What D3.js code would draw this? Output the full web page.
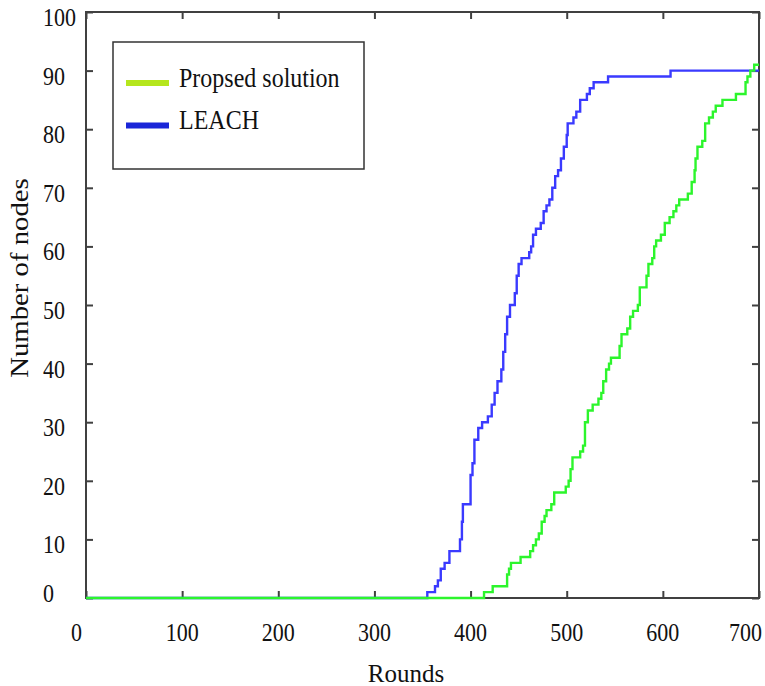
<!DOCTYPE html>
<html>
<head>
<meta charset="utf-8">
<script src="https://cdn.jsdelivr.net/npm/d3@7"></script>
<style>
  body { margin: 0; background: #fff; }
  text { font-family: "Liberation Serif", "Times New Roman", serif; fill: #111; }
</style>
</head>
<body>
<svg id="chart" width="765" height="686"></svg>
<script>
// data: [round, number of dead nodes]
var leachData = [
    [0, 0], [355, 1], [363, 2], [366, 3], [369, 5], [373, 6], [378, 8], [389, 10],
    [391, 13], [392, 16], [400, 21], [402, 23], [404, 27], [408, 29], [412, 30],
    [418, 31], [422, 33], [425, 35], [428, 37], [432, 39], [434, 42], [436, 45],
    [438, 48], [441, 50], [446, 52], [448, 55], [450, 57], [453, 58], [461, 59],
    [463, 60], [465, 62], [468, 63], [473, 64], [476, 66], [479, 67], [482, 68],
    [485, 70], [488, 72], [491, 73], [494, 75], [497, 77], [500, 79], [501, 81],
    [507, 82], [510, 83], [514, 85], [521, 86], [524, 87], [528, 88], [543, 89],
    [608, 90], [700, 90]
];

var proposedData = [
    [0, 0], [414, 1], [423, 2], [438, 4], [440, 5], [442, 6], [452, 7], [462, 8],
    [465, 9], [468, 10], [471, 11], [474, 13], [477, 14], [479, 15], [484, 16],
    [487, 18], [499, 19], [502, 20], [504, 22], [506, 24], [514, 25], [517, 26],
    [519, 30], [522, 32], [527, 33], [533, 34], [536, 35], [538, 37], [541, 39],
    [544, 40], [546, 41], [555, 43], [557, 45], [563, 46], [566, 48], [569, 49],
    [574, 50], [576, 53], [583, 55], [585, 57], [589, 58], [591, 60], [593, 61],
    [598, 62], [602, 64], [607, 65], [611, 66], [614, 67], [617, 68], [626, 69],
    [630, 71], [633, 73], [634, 75], [636, 77], [641, 78], [644, 81], [648, 82],
    [652, 83], [655, 84], [662, 85], [676, 86], [686, 88], [688, 89], [691, 90],
    [695, 91], [700, 91]
];

var xTicks = [0, 100, 200, 300, 400, 500, 600, 700];
var yTicks = [0, 10, 20, 30, 40, 50, 60, 70, 80, 90, 100];
var seriesNames = ["Propsed solution", "LEACH"];

var svg = d3.select("#chart");

// plot box (window.top is reserved, so no bare "top")
var box = { left: 86, right: 759, top: 12, bottom: 598 };

var x = d3.scaleLinear().domain([0, 700]).range([box.left, box.right]);
var y = d3.scaleLinear().domain([0, 100]).range([box.bottom, box.top]);

// inward ticks on all four sides
function tickAxis(axis, tx, ty) {
    var g = svg.append("g")
        .attr("transform", "translate(" + tx + "," + ty + ")")
        .call(axis.tickSizeInner(-7).tickSizeOuter(0).tickFormat(""));
    g.select(".domain").remove();
    g.selectAll("line").attr("stroke", "#404040").attr("stroke-width", 2);
}
tickAxis(d3.axisBottom(x).tickValues(xTicks), 0, box.bottom);
tickAxis(d3.axisTop(x).tickValues(xTicks), 0, box.top);
tickAxis(d3.axisLeft(y).tickValues(yTicks), box.left, 0);
tickAxis(d3.axisRight(y).tickValues(yTicks), box.right, 0);

// frame
svg.append("rect")
    .attr("x", box.left).attr("y", box.top)
    .attr("width", box.right - box.left).attr("height", box.bottom - box.top)
    .attr("fill", "none")
    .attr("stroke", "#404040")
    .attr("stroke-width", 2);

// tick labels (text in the original is a bit taller than wide)
svg.append("g").selectAll("text")
    .data(xTicks)
    .enter().append("text")
    .attr("transform", function (d) {
        var px = x(d);
        if (d === 0) px -= 4;
        if (d === 700) px += 3;
        return "translate(" + px + ",641) scale(1,1.15)";
    })
    .attr("text-anchor", function (d) { return (d === 0 || d === 700) ? "end" : "middle"; })
    .style("font-size", "22px")
    .text(function (d) { return d; });

svg.append("g").selectAll("text")
    .data(yTicks)
    .enter().append("text")
    .attr("transform", function (d) {
        return "translate(43," + Math.min(y(d) + 14, 602) + ") scale(1,1.15)";
    })
    .attr("text-anchor", "start")
    .style("font-size", "22px")
    .text(function (d) { return d; });

// axis titles
svg.append("text")
    .attr("x", 406).attr("y", 682)
    .attr("text-anchor", "middle")
    .style("font-size", "25px")
    .text("Rounds");

svg.append("text")
    .attr("transform", "translate(28,278) rotate(-90) scale(1.15,1)")
    .attr("text-anchor", "middle")
    .style("font-size", "25px")
    .text("Number of nodes");

// curves
var line = d3.line()
    .x(function (d) { return x(d[0]); })
    .y(function (d) { return y(d[1]); })
    .curve(d3.curveStepAfter);

svg.append("path")
    .datum(leachData)
    .attr("d", line)
    .attr("fill", "none")
    .attr("stroke", "#3a3aff")
    .attr("stroke-width", 2.4);

svg.append("path")
    .datum(proposedData)
    .attr("d", line)
    .attr("fill", "none")
    .attr("stroke", "#2cf52c")
    .attr("stroke-width", 2.4);

// legend
var legend = svg.append("g");
legend.append("rect")
    .attr("x", 113).attr("y", 42)
    .attr("width", 251).attr("height", 127)
    .attr("fill", "#fff")
    .attr("stroke", "#333")
    .attr("stroke-width", 1.5);

var legendColors = ["#b5e61d", "#1a26d8"];
seriesNames.forEach(function (name, i) {
    var ly = 83 + i * 42.5;
    legend.append("line")
        .attr("x1", 126).attr("x2", 169)
        .attr("y1", ly).attr("y2", ly)
        .attr("stroke", legendColors[i])
        .attr("stroke-width", 6);
    legend.append("text")
        .attr("transform", "translate(179," + (ly + 3.5) + ") scale(1,1.1)")
        .style("font-size", "24px")
        .text(name);
});
</script>
</body>
</html>
